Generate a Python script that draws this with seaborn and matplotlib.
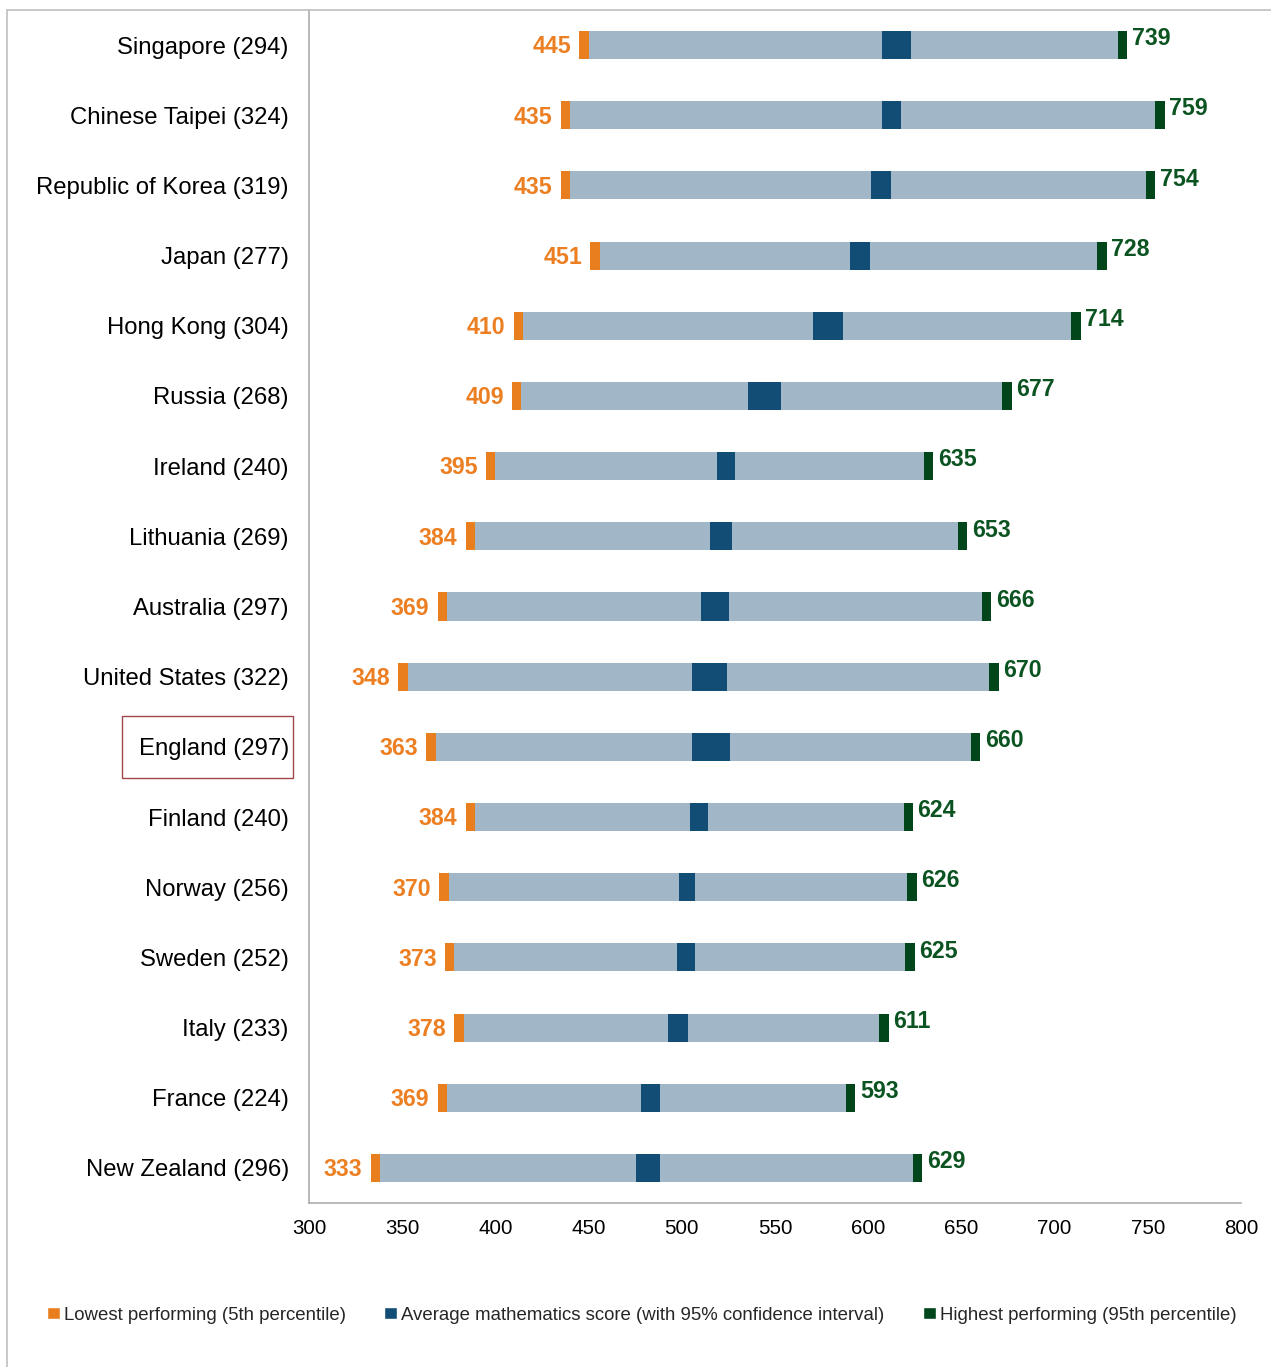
import matplotlib
matplotlib.use("Agg")
import matplotlib.pyplot as plt
import seaborn as sns
import pandas as pd
import numpy as np
from matplotlib.patches import Rectangle, Patch

# ---------------- data ----------------
countries = ["Singapore", "Chinese Taipei", "Republic of Korea", "Japan", "Hong Kong",
             "Russia", "Ireland", "Lithuania", "Australia", "United States", "England",
             "Finland", "Norway", "Sweden", "Italy", "France", "New Zealand"]
sample_sizes = [294, 324, 319, 277, 304, 268, 240, 269, 297, 322, 297, 240, 256, 252, 233, 224, 296]
p5 = [445, 435, 435, 451, 410, 409, 395, 384, 369, 348, 363, 384, 370, 373, 378, 369, 333]
p95 = [739, 759, 754, 728, 714, 677, 635, 653, 666, 670, 660, 624, 626, 625, 611, 593, 629]
ci_low = [607.4, 607.4, 601.5, 590.4, 570.2, 535.3, 518.7, 515.3, 510.3, 505.5, 505.5,
          504.4, 498.5, 497.4, 492.4, 478.3, 475.4]
ci_high = [623.1, 617.8, 612.3, 601.1, 586.3, 553.1, 528.4, 527.1, 525.3, 524.2, 526.0,
           514.1, 507.1, 507.1, 503.3, 488.3, 488.3]
x_ticks = [300, 350, 400, 450, 500, 550, 600, 650, 700, 750, 800]
legend_labels = ["Lowest performing (5th percentile)",
                 "Average mathematics score (with 95% confidence interval)",
                 "Highest performing (95th percentile)"]
highlight = "England"
cap = 5  # width of the percentile end markers (score points)

labels = [f"{c} ({n})" for c, n in zip(countries, sample_sizes)]

C_ORANGE = "#E97E1F"
C_LIGHT = "#A1B7C7"
C_DARK = "#114D74"
C_GREEN = "#00461A"
T_ORANGE = "#EC7F22"
T_GREEN = "#0B5421"
C_SPINE = "#A6A6A6"

df = pd.DataFrame({
    "label": labels,
    "p5": p5, "p95": p95, "lo": ci_low, "hi": ci_high,
})
segs = pd.DataFrame({
    "label": labels,
    "o_left": df["p5"], "o_w": cap,
    "l1_left": df["p5"] + cap, "l1_w": df["lo"] - (df["p5"] + cap),
    "d_left": df["lo"], "d_w": df["hi"] - df["lo"],
    "l2_left": df["hi"], "l2_w": (df["p95"] - cap) - df["hi"],
    "g_left": df["p95"] - cap, "g_w": cap,
})

sns.set_theme(style="white")
plt.rcParams["font.family"] = ["Liberation Sans", "DejaVu Sans"]

W, H = 1271, 1367
fig = plt.figure(figsize=(W / 100, H / 100), dpi=100)
ax = fig.add_axes([309 / W, 164 / H, 932 / W, 1193 / H])

for key, col in [("o", C_ORANGE), ("l1", C_LIGHT), ("d", C_DARK), ("l2", C_LIGHT), ("g", C_GREEN)]:
    sns.barplot(data=segs, y="label", x=f"{key}_w", order=labels, orient="y",
                color=col, saturation=1, width=0.4, errorbar=None, linewidth=0,
                left=segs[f"{key}_left"].to_numpy(), ax=ax)

ax.set_xlim(300, 800)
ax.set_ylim(len(labels) - 0.5, -0.5)
ax.set_xlabel("")
ax.set_ylabel("")
ax.set_xticks(x_ticks)
ax.set_xticklabels([str(t) for t in x_ticks], fontsize=14.8, color="black")
ax.set_yticks(range(len(labels)))
ax.set_yticklabels(labels, fontsize=17.2, color="black")
ax.set_yticks(np.arange(-0.5, len(labels), 1.0), minor=True)
ax.tick_params(axis="y", which="major", length=0, pad=14.5)
ax.tick_params(axis="y", which="minor", length=5, width=1.0, color=C_SPINE, direction="out")
ax.tick_params(axis="x", which="major", length=4.5, width=1.0, color=C_SPINE, direction="out", pad=7)
for s in ["top", "right"]:
    ax.spines[s].set_visible(False)
for s in ["left", "bottom"]:
    ax.spines[s].set_color(C_SPINE)
    ax.spines[s].set_linewidth(1.1)

# value labels
for i in range(len(labels)):
    ax.text(p5[i] - 4.5, i - 0.01, str(p5[i]), ha="right", va="center_baseline", color=T_ORANGE,
            fontsize=16.7, fontweight="bold")
    ax.text(p95[i] + 2.5, i - 0.125, str(p95[i]), ha="left", va="center_baseline", color=T_GREEN,
            fontsize=16.7, fontweight="bold")

# highlight box around England label
idx = countries.index(highlight)
ax.add_patch(Rectangle((-0.2006, idx - 0.443), 0.1834, 0.886,
                       transform=ax.get_yaxis_transform(), fill=False,
                       edgecolor="#A3464A", linewidth=1.0, clip_on=False))

# outer frame
fig.add_artist(Rectangle((7 / W, -0.02), 1.0, (H - 10) / H + 0.02, transform=fig.transFigure,
                         fill=False, edgecolor="#BFBFBF", linewidth=1.2))

handles = [Patch(facecolor=C_ORANGE), Patch(facecolor=C_DARK), Patch(facecolor=C_GREEN)]
fig.legend(handles, legend_labels, loc="center left", bbox_to_anchor=(47 / W, (H - 1315) / H),
           ncol=3, frameon=False, fontsize=13.4, handlelength=0.68, handleheight=0.6,
           handletextpad=0.22, columnspacing=2.08, borderpad=0, borderaxespad=0)

fig.savefig("out.png", dpi=100)
